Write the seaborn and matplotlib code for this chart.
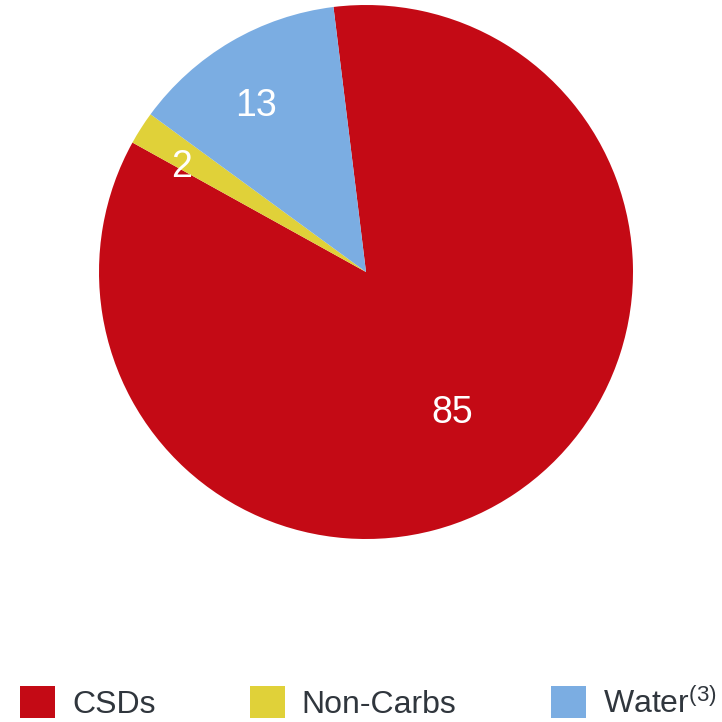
import numpy as np
import matplotlib
matplotlib.use("Agg")
import matplotlib.pyplot as plt
import seaborn as sns

sns.set_theme(style="white")
plt.rcParams["font.family"] = ["Liberation Sans", "DejaVu Sans"]
plt.rcParams["mathtext.default"] = "regular"

# Volume mix by category (%)
categories = ["CSDs", "Non-Carbs", "Water"]
legend_labels = ["CSDs", "Non-Carbs", r"Water$^{(3)}$"]
shares = [85, 2, 13]
colors = ["#C40A15", "#E0D139", "#7BADE2"]

# placement of the value labels: fraction of radius and angular nudge (deg)
label_radius = [0.618, 0.795, 0.745]
label_nudge = [-2.6, 3.1, 3.2]

W, H = 722, 722
fig = plt.figure(figsize=(W / 100, H / 100), dpi=100)
cx, cy, r = 366, 272, 267
ax = fig.add_axes([(cx - r) / W, 1 - (cy + r) / H, 2 * r / W, 2 * r / H])

wedges, _ = ax.pie(shares, colors=colors, startangle=97, counterclock=False,
                   radius=1.0, wedgeprops=dict(linewidth=0))
ax.set_xlim(-1, 1)
ax.set_ylim(-1, 1)
ax.set_aspect("equal")
ax.axis("off")

for w, val, lr, dn in zip(wedges, shares, label_radius, label_nudge):
    mid = np.deg2rad((w.theta1 + w.theta2) / 2 + dn)
    ax.text(lr * np.cos(mid), lr * np.sin(mid), f"{val}", color="white",
            fontsize=27, ha="center", va="center")

leg = fig.legend(wedges, legend_labels, ncol=3, frameon=False,
                 loc="center left", bbox_to_anchor=(20 / W, 1 - 703 / H),
                 fontsize=23, handlelength=1.1, handleheight=1.16,
                 handletextpad=0.53, columnspacing=2.95, borderpad=0,
                 borderaxespad=0, labelcolor="#30363D")

fig.savefig("out.png", dpi=100, facecolor="white")
